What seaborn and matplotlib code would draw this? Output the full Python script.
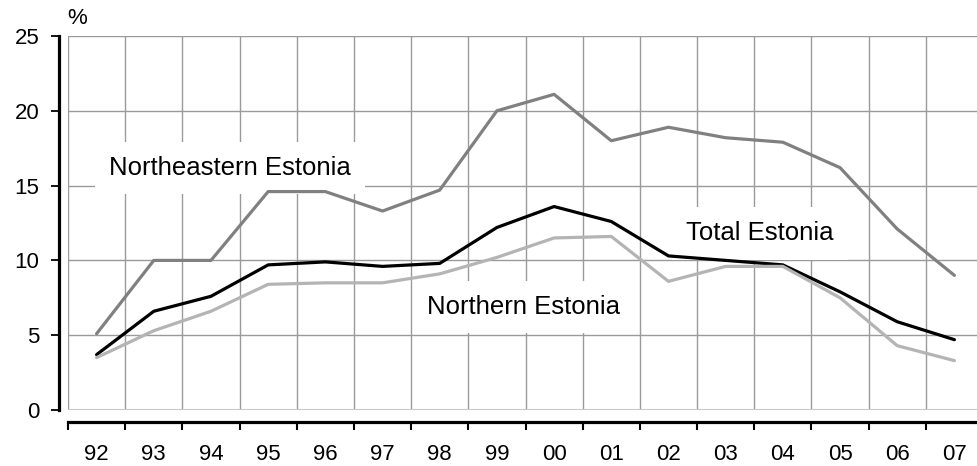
import numpy as np
import pandas as pd
import matplotlib
matplotlib.use("Agg")
import matplotlib.pyplot as plt
import seaborn as sns

years = ["92", "93", "94", "95", "96", "97", "98", "99",
         "00", "01", "02", "03", "04", "05", "06", "07"]
northeastern = [5.1, 10.0, 10.0, 14.6, 14.6, 13.3, 14.7, 20.0,
                21.1, 18.0, 18.9, 18.2, 17.9, 16.2, 12.1, 9.0]
total = [3.7, 6.6, 7.6, 9.7, 9.9, 9.6, 9.8, 12.2,
         13.6, 12.6, 10.3, 10.0, 9.7, 7.9, 5.9, 4.7]
northern = [3.5, 5.3, 6.6, 8.4, 8.5, 8.5, 9.1, 10.2,
            11.5, 11.6, 8.6, 9.6, 9.6, 7.5, 4.3, 3.3]

sns.set_style("white")
plt.rcParams["font.family"] = ["Liberation Sans", "DejaVu Sans"]
plt.rcParams["text.color"] = "black"
plt.rcParams["xtick.color"] = "black"
plt.rcParams["ytick.color"] = "black"

df = pd.DataFrame({
    "pos": list(range(len(years))) * 3,
    "value": northeastern + total + northern,
    "region": (["Northeastern Estonia"] * len(years) + ["Total Estonia"] * len(years)
               + ["Northern Estonia"] * len(years)),
})
colors = {"Northeastern Estonia": "#808080", "Total Estonia": "#000000",
          "Northern Estonia": "#b4b4b4"}

fig = plt.figure(figsize=(9.77, 4.66), dpi=100)
ax = fig.add_axes([68 / 977, 56 / 466, 915 / 977, 374 / 466])

# grid
ax.set_xlim(-0.5, len(years) - 0.5)
ax.set_ylim(0, 25)
ax.set_xticks(np.arange(len(years)))
ax.set_xticklabels(years)
ax.set_xticks(np.arange(-0.5, len(years)), minor=True)
ax.set_yticks([0, 5, 10, 15, 20, 25])
ax.grid(False)
ax.grid(True, which="minor", axis="x", color="#9a9a9a", linewidth=1.0)
ax.grid(True, which="major", axis="y", color="#9a9a9a", linewidth=1.0)
ax.axhline(0, color="#c8c8c8", linewidth=1.5, zorder=1)

sns.lineplot(data=df, x="pos", y="value", hue="region", palette=colors,
             linewidth=2.3, legend=False, ax=ax, zorder=3)

# labels on lines (white boxes hide the grid, lines stay on top)
box = dict(boxstyle="square,pad=0.55", facecolor="white", edgecolor="none")
ax.text(2.33, 16.2, "Northeastern Estonia", fontsize=18.5, ha="center", va="center",
        bbox=box, zorder=2)
ax.text(11.6, 11.8, "Total Estonia", fontsize=18.5, ha="center", va="center",
        bbox=box, zorder=2)
ax.text(7.46, 6.9, "Northern Estonia", fontsize=18.5, ha="center", va="center",
        bbox=box, zorder=2)

# spines
for s in ["top", "right"]:
    ax.spines[s].set_visible(False)
ax.spines["left"].set_position(("outward", 6.5))
ax.spines["left"].set_bounds(0, 25)
ax.spines["left"].set_linewidth(2.3)
ax.spines["left"].set_color("black")
ax.spines["bottom"].set_position(("outward", 8.6))
ax.spines["bottom"].set_linewidth(2.3)
ax.spines["bottom"].set_color("black")

ax.tick_params(axis="y", which="major", length=6, width=1.3, direction="out",
               pad=8, labelsize=16, left=True)
ax.tick_params(axis="x", which="major", length=0, pad=16, labelsize=16)
ax.tick_params(axis="x", which="minor", length=6, width=1.5, direction="out", bottom=True)

ax.set_xlabel("")
ax.set_ylabel("")
fig.text(77 / 977, 1 - 18 / 466, "%", fontsize=16, ha="center", va="center")

fig.savefig("out.png", dpi=100)
